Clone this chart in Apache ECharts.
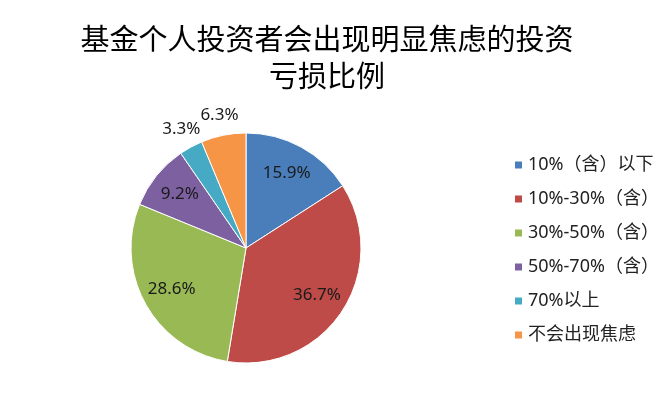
<!DOCTYPE html>
<html>
<head>
<meta charset="utf-8">
<script src="https://cdn.jsdelivr.net/npm/echarts@6/dist/echarts.min.js"></script>
<style>
html,body{margin:0;padding:0;background:#fff;}
#chart{width:665px;height:400px;}
</style>
</head>
<body>
<div id="chart"></div>
<script>
var titleText = '基金个人投资者会出现明显焦虑的投资\n亏损比例';
var categories = ['10%（含）以下', '10%-30%（含）', '30%-50%（含）', '50%-70%（含）', '70%以上', '不会出现焦虑'];
var values = [15.9, 36.7, 28.6, 9.2, 3.3, 6.3];
var colors = ['#4A7EBB', '#BE4B48', '#98B954', '#7D60A0', '#46AAC5', '#F69546'];

var chart = echarts.init(document.getElementById('chart'));
var center = [246, 248];
var labelStyle = {
  fontFamily: 'Noto Sans, sans-serif',
  fontSize: 17,
  color: '#1a1a1a',
  formatter: function (p) { return p.value.toFixed(1) + '%'; }
};
function isSmall(v) { return v < 8; }

var mainData = categories.map(function (c, i) {
  return { name: c, value: values[i], itemStyle: { color: colors[i] } };
});
function labelData(wantSmall) {
  return categories.map(function (c, i) {
    var show = isSmall(values[i]) === wantSmall;
    return { name: c, value: values[i], label: { show: show } };
  });
}
var ghost = {
  type: 'pie',
  center: center,
  startAngle: 90,
  silent: true,
  avoidLabelOverlap: false,
  itemStyle: { color: 'rgba(0,0,0,0)', borderWidth: 0 },
  labelLine: { show: false },
  emphasis: { disabled: true },
  animation: false
};

chart.setOption({
  animation: false,
  backgroundColor: '#ffffff',
  title: {
    text: titleText,
    left: 322,
    top: 15,
    textAlign: 'center',
    textStyle: {
      fontFamily: 'Noto Sans CJK SC, sans-serif',
      fontSize: 29,
      fontWeight: 'normal',
      color: '#000',
      lineHeight: 37
    }
  },
  legend: {
    orient: 'vertical',
    left: 508,
    top: 151,
    itemWidth: 9,
    itemHeight: 9,
    itemGap: 16,
    icon: 'rect',
    data: categories,
    textStyle: {
      fontFamily: 'Noto Sans, Noto Sans CJK SC, sans-serif',
      fontSize: 18,
      color: '#222'
    }
  },
  series: [
    {
      type: 'pie',
      name: 'main',
      center: center,
      radius: [0, 115],
      startAngle: 90,
      avoidLabelOverlap: false,
      label: { show: false },
      labelLine: { show: false },
      itemStyle: { borderColor: '#ffffff', borderWidth: 1 },
      emphasis: { disabled: true },
      data: mainData
    },
    Object.assign({}, ghost, {
      name: 'inner-labels',
      radius: [0, 164],
      label: Object.assign({ position: 'inside' }, labelStyle),
      data: labelData(false)
    }),
    Object.assign({}, ghost, {
      name: 'outer-labels',
      radius: [0, 264],
      label: Object.assign({ position: 'inside' }, labelStyle),
      data: labelData(true)
    })
  ]
});
</script>
</body>
</html>
